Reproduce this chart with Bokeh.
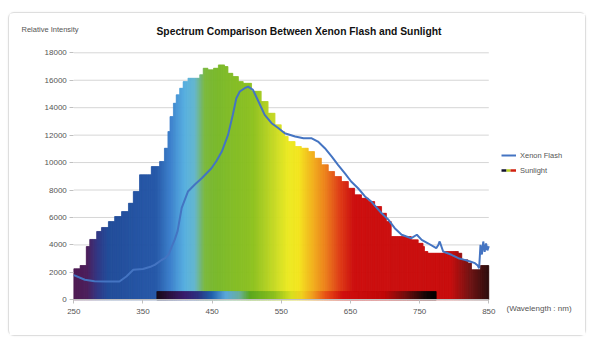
import numpy as np
from bokeh.plotting import figure
from bokeh.models import Range1d, Label, Legend, LegendItem, FixedTicker
from bokeh.embed import file_html
from bokeh.resources import INLINE

# ---------------- data ----------------
sun_nm = [250, 259, 268, 273, 283, 290, 300, 309, 319, 329, 336, 345, 362, 374, 381,
          386, 389, 394, 398, 403, 408, 415, 432, 437, 444, 452, 459, 468, 473, 480,
          488, 495, 507, 521, 531, 541, 550, 555, 560, 570, 579, 589, 598, 608, 618,
          627, 637, 647, 656, 666, 676, 685, 695, 702, 709, 738, 748, 755, 757, 762,
          786, 806, 811, 820, 825, 838, 850]
sun_val = [2260, 2500, 3880, 4400, 4980, 5270, 5700, 6070, 6430, 7040, 7890, 9110, 9710, 10080, 11050,
           12260, 13350, 14330, 14940, 15420, 15900, 16150, 16400, 16880, 16760, 16880, 17120, 17000, 16510, 16270,
           15900, 15780, 15200, 14450, 13600, 12750, 12260, 11900, 11530, 11170, 11050, 10800, 10320, 9840, 9350,
           8980, 8620, 8130, 7650, 7400, 7160, 6800, 6310, 5700, 4610, 4370, 4120, 3880, 3520, 3400,
           3520, 3400, 2910, 2670, 2190, 2500, 2500]

xen_nm = [250, 266, 280, 296, 316, 326, 336, 350, 362, 367, 377, 382, 387, 391, 396,
          400, 406, 415, 425, 435, 449, 456, 464, 473, 480, 485, 490, 497, 502, 509,
          517, 526, 536, 546, 555, 570, 582, 594, 603, 613, 623, 632, 642, 651, 661,
          671, 680, 695, 705, 714, 724, 731, 738, 746, 753, 762, 774, 777, 779, 784,
          796, 806, 815, 823, 830, 834, 836, 838, 840, 842, 844, 846, 848, 850]
xen_val = [1800, 1460, 1360, 1330, 1330, 1700, 2190, 2250, 2430, 2550, 2900, 3030, 3300, 3800, 4400,
           5000, 6700, 7890, 8400, 8860, 9590, 10100, 10800, 12020, 13500, 14690, 15180, 15420, 15540, 15300,
           14450, 13480, 12870, 12500, 12140, 11900, 11770, 11770, 11530, 11050, 10440, 9840, 9220, 8620, 8130,
           7530, 7160, 6310, 5830, 5220, 4740, 4610, 4490, 4740, 4370, 4120, 3760, 4000, 4250, 3520,
           3280, 3030, 2910, 2790, 2670, 2500, 2300, 4000, 3300, 4250, 3500, 4100, 3600, 3900]

x_ticks = [250, 350, 450, 550, 650, 750, 850]
y_ticks = [0, 2000, 4000, 6000, 8000, 10000, 12000, 14000, 16000, 18000]
band_nm = [370, 774]          # visible-spectrum strip along the axis

# ---------------- colour ramps (style) ----------------
AREA_STOPS = [(250, "#4b1850"), (270, "#4a1c5a"), (285, "#2d3584"), (300, "#1f4a98"),
              (370, "#2457a8"), (390, "#3a7fcc"), (410, "#55aee0"), (425, "#62b6cf"),
              (440, "#7cb83a"), (455, "#78b82a"), (510, "#8ec21f"), (540, "#c6d923"),
              (560, "#ecea22"), (575, "#f3e61d"), (595, "#f2b21b"), (615, "#ec7d1a"),
              (635, "#de3a14"), (655, "#cc0c0c"), (795, "#c80a0a"), (825, "#6a1010"),
              (850, "#2a0a0a")]
BAND_STOPS = [(370, "#1a0a15"), (390, "#2d1240"), (410, "#3a1a6a"), (430, "#2c2f80"),
              (450, "#2060b0"), (470, "#5aa8e0"), (490, "#6ab0a0"), (505, "#5aa820"),
              (540, "#8cc020"), (565, "#d8e020"), (580, "#f0d020"), (595, "#f0a020"),
              (615, "#e85018"), (640, "#d01010"), (700, "#c00a0a"), (730, "#701010"),
              (760, "#100808"), (774, "#000000")]


def ramp(stops, w):
    ws = [s[0] for s in stops]
    rgb = np.array([[int(s[1][i:i + 2], 16) for i in (1, 3, 5)] for s in stops], float)
    c = [int(round(np.interp(w, ws, rgb[:, k]))) for k in range(3)]
    return "#%02x%02x%02x" % tuple(c)


# ---------------- layout geometry (window pixels) ----------------
CARD_L, CARD_T, CARD_W, CARD_H = 8, 12, 578, 324
FR_L, FR_R, FR_T, FR_B = 14, 584, 14, 334          # frame covers the card
AX_X0, AX_X1 = 72.3, 487.3                         # pixel of 250 nm / 850 nm
AX_Y0, AX_Y1 = 298.3, 51.3                         # pixel of 0 / 18000
kx = (x_ticks[-1] - x_ticks[0]) / (AX_X1 - AX_X0)
ky = (y_ticks[-1] - y_ticks[0]) / (AX_Y0 - AX_Y1)
x_range = Range1d(x_ticks[0] - (AX_X0 - FR_L) * kx, x_ticks[-1] + (FR_R - AX_X1) * kx)
y_range = Range1d(y_ticks[0] - (FR_B - AX_Y0) * ky, y_ticks[-1] + (AX_Y1 - FR_T) * ky)

p = figure(width=CARD_W, height=CARD_H, output_backend="svg", toolbar_location=None,
           x_range=x_range, y_range=y_range,
           min_border_left=FR_L - CARD_L, min_border_right=CARD_L + CARD_W - FR_R,
           min_border_top=FR_T - CARD_T, min_border_bottom=CARD_T + CARD_H - FR_B,
           margin=(CARD_T, 0, 0, CARD_L), outline_line_color=None)
p.styles = {"border": "1px solid #dedede", "border-radius": "6px",
            "box-shadow": "0 0 2px rgba(0,0,0,0.08)"}

# horizontal grid lines, only across the data span
n = len(y_ticks)
p.segment(x0=[x_ticks[0]] * n, x1=[x_ticks[-1]] * n, y0=y_ticks, y1=y_ticks,
          line_color="#d6d6d6", line_width=1, level="underlay")

# sunlight: stepped area, sliced into thin strips for the spectrum gradient
edges = np.arange(sun_nm[0], sun_nm[-1], 1.0)
idx = np.searchsorted(sun_nm, edges, side="right") - 1
tops = np.array(sun_val)[idx]
cols = [ramp(AREA_STOPS, e + 0.5) for e in edges]
p.quad(left=edges, right=edges + 1, bottom=0, top=tops,
       fill_color=cols, line_color=cols, line_width=0.6)

# visible spectrum strip at the base
bedges = np.arange(band_nm[0], band_nm[1], 1.0)
bcols = [ramp(BAND_STOPS, e + 0.5) for e in bedges]
p.quad(left=bedges, right=bedges + 1, bottom=0, top=600,
       fill_color=bcols, line_color=bcols, line_width=0.6)

# xenon flash line
xen_r = p.line(xen_nm, xen_val, line_color="#4474c2", line_width=2)

# legend proxies for the multicoloured "Sunlight" key
s1 = p.line([np.nan], [np.nan], line_color="#10102a", line_width=2.5, line_dash="5 10", line_dash_offset=0)
s2 = p.line([np.nan], [np.nan], line_color="#b8d020", line_width=2.5, line_dash="4 11", line_dash_offset=10)
s3 = p.line([np.nan], [np.nan], line_color="#d02010", line_width=2.5, line_dash="6 9", line_dash_offset=6)

legend = Legend(items=[LegendItem(label="Xenon Flash", renderers=[xen_r]),
                       LegendItem(label="Sunlight", renderers=[s1, s2, s3])],
                location=(500 - FR_L, FR_B - 174), border_line_color=None, background_fill_alpha=0,
                label_text_font="Liberation Sans", label_text_font_size="7.5px",
                label_text_color="#555555", glyph_width=15, glyph_height=10,
                spacing=5, label_standoff=4, padding=0, margin=0, label_height=10)
p.add_layout(legend)

# axes drawn at the data origin
p.xgrid.grid_line_color = None
p.ygrid.grid_line_color = None
p.xaxis.fixed_location = y_ticks[0]
p.yaxis.fixed_location = x_ticks[0]
p.xaxis.bounds = (x_ticks[0], x_ticks[-1])
p.yaxis.bounds = (y_ticks[0], y_ticks[-1])
p.xaxis.ticker = FixedTicker(ticks=x_ticks)
p.yaxis.ticker = FixedTicker(ticks=y_ticks)
for ax in (p.xaxis, p.yaxis):
    ax.major_label_text_font = "Liberation Sans"
    ax.major_label_text_font_size = "8px"
    ax.major_label_text_color = "#555555"
    ax.major_tick_line_color = "#c0c0c0"
    ax.major_tick_in = 0
    ax.major_tick_out = 4
    ax.minor_tick_line_color = None
p.yaxis.axis_line_color = None
p.yaxis.major_label_standoff = 3
p.xaxis.axis_line_color = "#c0c0c0"
p.xaxis.major_label_standoff = 5


def txt(x, y, s, size, bold=False, color="#555555"):
    p.add_layout(Label(x=x - FR_L, y=FR_B - y, x_units="screen", y_units="screen",
                       text=s, text_font="Liberation Sans", text_font_size=size,
                       text_font_style="bold" if bold else "normal",
                       text_color=color, text_baseline="middle"))


txt(155, 30, "Spectrum Comparison Between Xenon Flash and Sunlight", "10.3px", True, "#111111")
txt(20, 28, "Relative Intensity", "7.5px")
txt(505, 307, "(Wavelength : nm)", "8px")

open("out.html", "w").write(file_html(p, INLINE))
